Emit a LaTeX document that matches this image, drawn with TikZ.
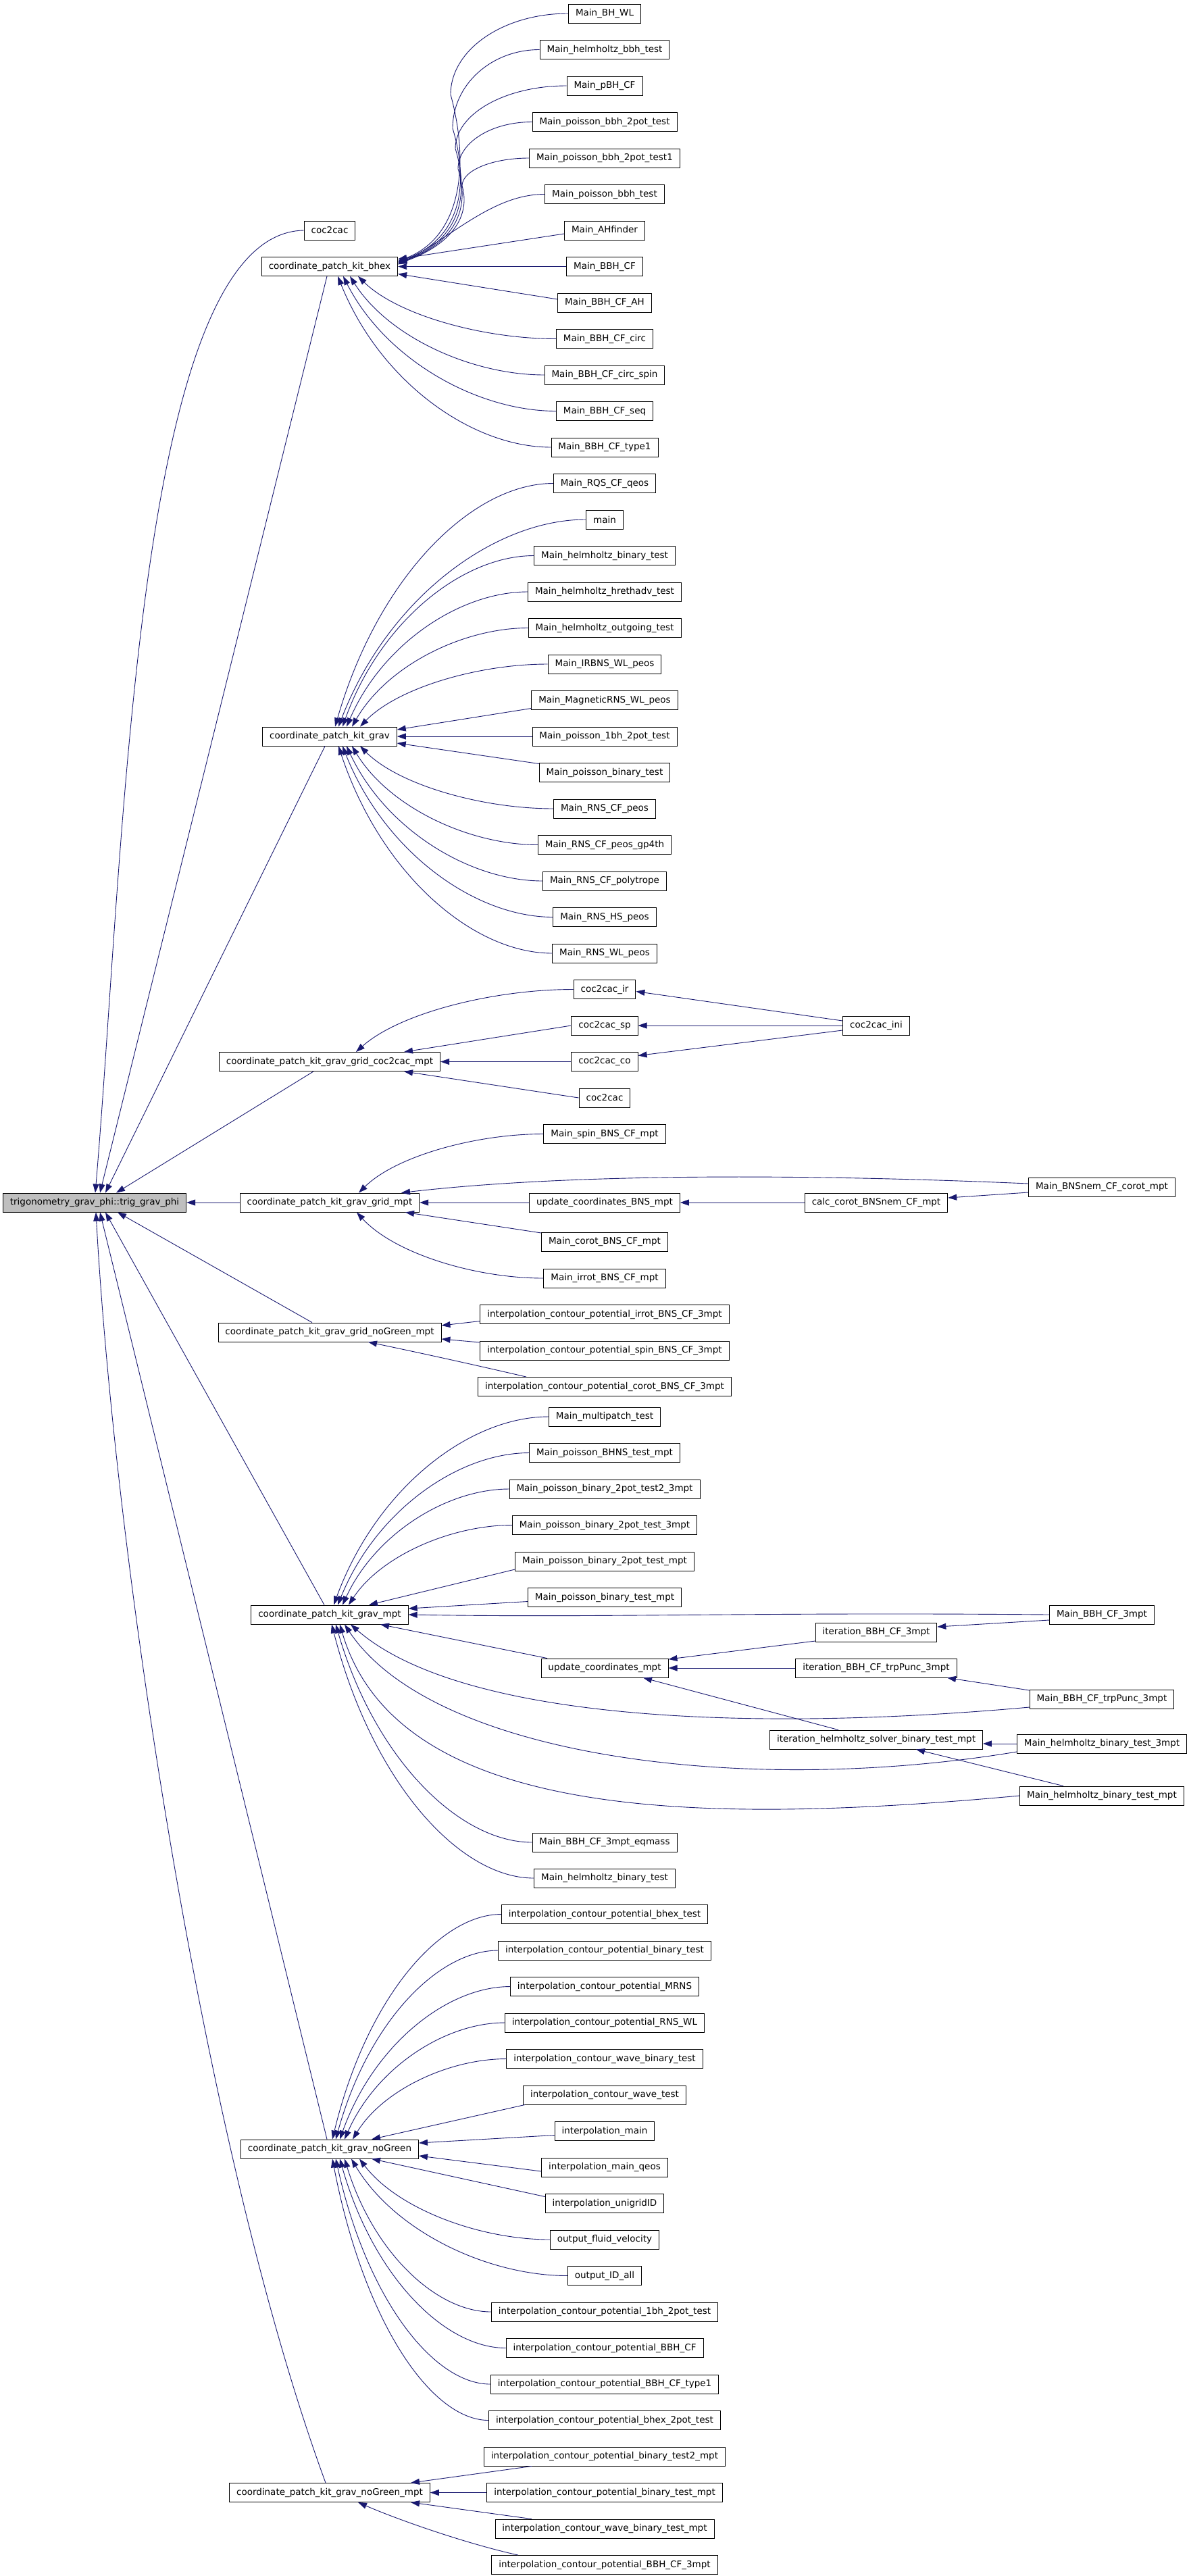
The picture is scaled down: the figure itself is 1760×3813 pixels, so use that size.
\documentclass[tikz,border=0pt]{standalone}
\usepackage{fontspec}
\newfontfamily\dvs{DejaVu Sans}
\usetikzlibrary{arrows.meta,calc}
\definecolor{navy}{RGB}{25,25,112}
\definecolor{rootfill}{RGB}{191,191,191}
\tikzset{
  box/.style={draw=black, line width=0.9pt, fill=white, minimum height=28pt, inner xsep=10.5pt, inner ysep=0pt, font=\dvs\fontsize{13.5}{16}\selectfont, anchor=center},
  lnk/.style={draw=navy, line width=0.9pt, -{Triangle[length=13pt,width=9pt]}},
}
\newcommand\fanedge[2]{\draw[lnk] let \p1=(#1), \p2=(#2) in (\p1) .. controls ({\x1-0.37*(\x1-\x2)},{\y1}) and ({\x2+0.2*(\x1-\x2)},{\y2+0.62*(\y1-\y2)}) .. (\p2);}
\begin{document}
\begin{tikzpicture}[x=1pt,y=-1pt]
\useasboundingbox (0,0) rectangle (1760,3813);
% ---------- column 1 and 2
\node[box,fill=rootfill] (r) at (140,1780) {trigonometry\_grav\_phi::trig\_grav\_phi};
\node[box] (c2a) at (488,341) {coc2cac};
\node[box] (bhex) at (488,394.5) {coordinate\_patch\_kit\_bhex};
\node[box] (grav) at (488,1090) {coordinate\_patch\_kit\_grav};
\node[box] (ccm) at (488,1571.5) {coordinate\_patch\_kit\_grav\_grid\_coc2cac\_mpt};
\node[box] (gm) at (488,1780) {coordinate\_patch\_kit\_grav\_grid\_mpt};
\node[box] (gng) at (488,1972) {coordinate\_patch\_kit\_grav\_grid\_noGreen\_mpt};
\node[box] (mpt) at (488,2390) {coordinate\_patch\_kit\_grav\_mpt};
\node[box] (ng) at (488,3181) {coordinate\_patch\_kit\_grav\_noGreen};
\node[box] (ngm) at (488,3689.5) {coordinate\_patch\_kit\_grav\_noGreen\_mpt};
% ---------- column 3
\node[box] (b0) at (895,20) {Main\_BH\_WL};
\node[box] (b1) at (895,73.5) {Main\_helmholtz\_bbh\_test};
\node[box] (b2) at (895,127) {Main\_pBH\_CF};
\node[box] (b3) at (895,180.5) {Main\_poisson\_bbh\_2pot\_test};
\node[box] (b4) at (895,234) {Main\_poisson\_bbh\_2pot\_test1};
\node[box] (b5) at (895,287.5) {Main\_poisson\_bbh\_test};
\node[box] (b6) at (895,341) {Main\_AHfinder};
\node[box] (b7) at (895,394.5) {Main\_BBH\_CF};
\node[box] (b8) at (895,448) {Main\_BBH\_CF\_AH};
\node[box] (b9) at (895,501.5) {Main\_BBH\_CF\_circ};
\node[box] (b10) at (895,555) {Main\_BBH\_CF\_circ\_spin};
\node[box] (b11) at (895,608.5) {Main\_BBH\_CF\_seq};
\node[box] (b12) at (895,662) {Main\_BBH\_CF\_type1};
\node[box] (g0) at (895,715.5) {Main\_RQS\_CF\_qeos};
\node[box] (g1) at (895,769) {main};
\node[box] (g2) at (895,822.5) {Main\_helmholtz\_binary\_test};
\node[box] (g3) at (895,876) {Main\_helmholtz\_hrethadv\_test};
\node[box] (g4) at (895,929.5) {Main\_helmholtz\_outgoing\_test};
\node[box] (g5) at (895,983) {Main\_IRBNS\_WL\_peos};
\node[box] (g6) at (895,1036.5) {Main\_MagneticRNS\_WL\_peos};
\node[box] (g7) at (895,1090) {Main\_poisson\_1bh\_2pot\_test};
\node[box] (g8) at (895,1143.5) {Main\_poisson\_binary\_test};
\node[box] (g9) at (895,1197) {Main\_RNS\_CF\_peos};
\node[box] (g10) at (895,1250.5) {Main\_RNS\_CF\_peos\_gp4th};
\node[box] (g11) at (895,1304) {Main\_RNS\_CF\_polytrope};
\node[box] (g12) at (895,1357.5) {Main\_RNS\_HS\_peos};
\node[box] (g13) at (895,1411) {Main\_RNS\_WL\_peos};
\node[box] (c0) at (895,1464.5) {coc2cac\_ir};
\node[box] (c1) at (895,1518) {coc2cac\_sp};
\node[box] (c2) at (895,1571.5) {coc2cac\_co};
\node[box] (c3) at (895,1625) {coc2cac};
\node[box] (m0) at (895,1678.5) {Main\_spin\_BNS\_CF\_mpt};
\node[box] (ub) at (895,1780) {update\_coordinates\_BNS\_mpt};
\node[box] (m1) at (895,1838) {Main\_corot\_BNS\_CF\_mpt};
\node[box] (m2) at (895,1892) {Main\_irrot\_BNS\_CF\_mpt};
\node[box] (n0) at (895,1945.5) {interpolation\_contour\_potential\_irrot\_BNS\_CF\_3mpt};
\node[box] (n1) at (895,1999) {interpolation\_contour\_potential\_spin\_BNS\_CF\_3mpt};
\node[box] (n2) at (895,2052.5) {interpolation\_contour\_potential\_corot\_BNS\_CF\_3mpt};
\node[box] (p0) at (895,2097) {Main\_multipatch\_test};
\node[box] (p1) at (895,2150.5) {Main\_poisson\_BHNS\_test\_mpt};
\node[box] (p2) at (895,2204) {Main\_poisson\_binary\_2pot\_test2\_3mpt};
\node[box] (p3) at (895,2257.5) {Main\_poisson\_binary\_2pot\_test\_3mpt};
\node[box] (p4) at (895,2311) {Main\_poisson\_binary\_2pot\_test\_mpt};
\node[box] (p5) at (895,2364.5) {Main\_poisson\_binary\_test\_mpt};
\node[box] (um) at (895,2469) {update\_coordinates\_mpt};
\node[box] (p6) at (895,2727) {Main\_BBH\_CF\_3mpt\_eqmass};
\node[box] (p7) at (895,2780) {Main\_helmholtz\_binary\_test};
\node[box] (q0) at (895,2833.5) {interpolation\_contour\_potential\_bhex\_test};
\node[box] (q1) at (895,2887) {interpolation\_contour\_potential\_binary\_test};
\node[box] (q2) at (895,2940.5) {interpolation\_contour\_potential\_MRNS};
\node[box] (q3) at (895,2994) {interpolation\_contour\_potential\_RNS\_WL};
\node[box] (q4) at (895,3047.5) {interpolation\_contour\_wave\_binary\_test};
\node[box] (q5) at (895,3101) {interpolation\_contour\_wave\_test};
\node[box] (q6) at (895,3154.5) {interpolation\_main};
\node[box] (q7) at (895,3208) {interpolation\_main\_qeos};
\node[box] (q8) at (895,3261.5) {interpolation\_unigridID};
\node[box] (q9) at (895,3315) {output\_fluid\_velocity};
\node[box] (q10) at (895,3368.5) {output\_ID\_all};
\node[box] (q11) at (895,3422) {interpolation\_contour\_potential\_1bh\_2pot\_test};
\node[box] (q12) at (895,3475.5) {interpolation\_contour\_potential\_BBH\_CF};
\node[box] (q13) at (895,3529) {interpolation\_contour\_potential\_BBH\_CF\_type1};
\node[box] (q14) at (895,3582.5) {interpolation\_contour\_potential\_bhex\_2pot\_test};
\node[box] (s0) at (895,3636) {interpolation\_contour\_potential\_binary\_test2\_mpt};
\node[box] (s1) at (895,3689.5) {interpolation\_contour\_potential\_binary\_test\_mpt};
\node[box] (s2) at (895,3743) {interpolation\_contour\_wave\_binary\_test\_mpt};
\node[box] (s3) at (895,3796.5) {interpolation\_contour\_potential\_BBH\_CF\_3mpt};
% ---------- column 4
\node[box] (ini) at (1297,1518) {coc2cac\_ini};
\node[box] (cc) at (1297,1780) {calc\_corot\_BNSnem\_CF\_mpt};
\node[box] (ia) at (1297,2416) {iteration\_BBH\_CF\_3mpt};
\node[box] (ib) at (1297,2469) {iteration\_BBH\_CF\_trpPunc\_3mpt};
\node[box] (ic) at (1297,2575) {iteration\_helmholtz\_solver\_binary\_test\_mpt};
% ---------- column 5
\node[box] (bn) at (1631,1757) {Main\_BNSnem\_CF\_corot\_mpt};
\node[box] (ba) at (1631,2390) {Main\_BBH\_CF\_3mpt};
\node[box] (bt) at (1631,2515) {Main\_BBH\_CF\_trpPunc\_3mpt};
\node[box] (h3) at (1631,2581) {Main\_helmholtz\_binary\_test\_3mpt};
\node[box] (hm) at (1631,2658) {Main\_helmholtz\_binary\_test\_mpt};

% ========== edges into root
\draw[lnk] (c2a.west) .. controls (200,345) and (185,1250) .. ([xshift=1pt]r.north);
\draw[lnk] ([xshift=-4pt]bhex.south) -- ([xshift=8pt]r.north);
\draw[lnk] ([xshift=-7pt]grav.south) -- ([xshift=16pt]r.north);
\draw[lnk] ([xshift=-24pt]ccm.south) -- ([xshift=32pt]r.north);
\draw[lnk] (gm.west) -- (r.east);
\draw[lnk] ([xshift=-26pt]gng.north) -- ([xshift=34pt]r.south);
\draw[lnk] ([xshift=-8pt]mpt.north) -- ([xshift=16pt]r.south);
\draw[lnk] ([xshift=-4pt]ng.north) -- ([xshift=8pt]r.south);
\draw[lnk] ([xshift=-6pt]ngm.north) .. controls (300,3180) and (170,2300) .. ([xshift=2pt]r.south);

% ========== bhex group
\draw[lnk] (b0.west) .. controls (744,20) and (667,74) .. (667,140) .. controls (697,250) and (680,352) .. ([yshift=8pt]bhex.east);
\draw[lnk] (b1.west) .. controls (727,73.5) and (670,125.5) .. (670,190) .. controls (697,280) and (678,355) .. ([yshift=7pt]bhex.east);
\draw[lnk] (b2.west) .. controls (747,127) and (674,169) .. (674,220) .. controls (697,295) and (676,358) .. ([yshift=6pt]bhex.east);
\draw[lnk] (b3.west) .. controls (726,180.5) and (678,212) .. (678,250) .. controls (697,310) and (672,360) .. ([yshift=5pt]bhex.east);
\draw[lnk] (b4.west) .. controls (728,234) and (684,252.5) .. (684,275) .. controls (697,320) and (668,362) .. ([yshift=4pt]bhex.east);
\draw[lnk] (b5.west) .. controls (730,287.5) and (670,350) .. ([yshift=3pt]bhex.east);
\draw[lnk] ([yshift=-5pt]b6.west) -- ([yshift=11pt]bhex.east);
\draw[lnk] (b7.west) -- (bhex.east);
\draw[lnk] ([yshift=5pt]b8.west) -- ([yshift=-11pt]bhex.east);
\fanedge{b9.west}{[xshift=42pt]bhex.south}
\fanedge{b10.west}{[xshift=30pt]bhex.south}
\fanedge{b11.west}{[xshift=20pt]bhex.south}
\fanedge{b12.west}{[xshift=12pt]bhex.south}

% ========== grav group
\fanedge{g0.west}{[xshift=8pt]grav.north}
\fanedge{g1.west}{[xshift=13pt]grav.north}
\fanedge{g2.west}{[xshift=19pt]grav.north}
\fanedge{g3.west}{[xshift=25pt]grav.north}
\fanedge{g4.west}{[xshift=33pt]grav.north}
\fanedge{g5.west}{[xshift=45pt]grav.north}
\draw[lnk] ([yshift=-12pt]g6.west) -- ([yshift=10pt]grav.east);
\draw[lnk] (g7.west) -- (grav.east);
\draw[lnk] ([yshift=13pt]g8.west) -- ([yshift=-10pt]grav.east);
\fanedge{g9.west}{[xshift=45pt]grav.south}
\fanedge{g10.west}{[xshift=33pt]grav.south}
\fanedge{g11.west}{[xshift=25pt]grav.south}
\fanedge{g12.west}{[xshift=19pt]grav.south}
\fanedge{g13.west}{[xshift=13pt]grav.south}

% ========== coc2cac group
\fanedge{c0.west}{[xshift=39pt]ccm.north}
\draw[lnk] (c1.west) -- ([xshift=110pt]ccm.north);
\draw[lnk] (c2.west) -- (ccm.east);
\draw[lnk] (c3.west) -- ([xshift=110pt]ccm.south);
\draw[lnk] ([yshift=7pt]ini.west) -- ([yshift=-3pt]c0.east);
\draw[lnk] (ini.west) -- (c1.east);
\draw[lnk] ([yshift=-7pt]ini.west) -- ([yshift=9pt]c2.east);

% ========== grid_mpt group
\fanedge{m0.west}{[xshift=43pt]gm.north}
\draw[lnk] ([yshift=5pt]bn.west) .. controls (1200,1738) and (850,1736) .. ([xshift=106pt]gm.north);
\draw[lnk] ([yshift=-8pt]bn.west) -- ([yshift=7pt]cc.east);
\draw[lnk] (cc.west) -- (ub.east);
\draw[lnk] (ub.west) -- (gm.east);
\draw[lnk] ([yshift=13pt]m1.west) -- ([xshift=112pt]gm.south);
\fanedge{m2.west}{[xshift=40pt]gm.south}

% ========== grid_noGreen_mpt group
\draw[lnk] ([yshift=-10pt]n0.west) -- ([yshift=10pt]gng.east);
\draw[lnk] ([yshift=12pt]n1.west) -- ([yshift=-10pt]gng.east);
\draw[lnk] ([xshift=-116pt]n2.north) .. controls (680,2015) and (600,1998) .. ([xshift=57pt]gng.south);

% ========== mpt group
\fanedge{p0.west}{[xshift=6pt]mpt.north}
\fanedge{p1.west}{[xshift=12pt]mpt.north}
\fanedge{p2.west}{[xshift=19pt]mpt.north}
\fanedge{p3.west}{[xshift=28pt]mpt.north}
\draw[lnk] ([yshift=-12pt]p4.west) -- ([xshift=58pt]mpt.north);
\draw[lnk] ([yshift=-6pt]p5.west) -- ([yshift=9pt]mpt.east);
\draw[lnk] (ba.west) .. controls (1100,2386) and (900,2395) .. (mpt.east);
\draw[lnk] ([yshift=-8pt]ba.west) -- ([yshift=8pt]ia.east);
\draw[lnk] ([yshift=-13pt]ia.west) -- ([yshift=13pt]um.east);
\draw[lnk] (ib.west) -- (um.east);
\draw[lnk] ([yshift=13pt]bt.west) -- ([xshift=105pt]ib.south);
\draw[lnk] ([xshift=-56pt]ic.north) -- ([xshift=57pt]um.south);
\draw[lnk] ([xshift=-85pt]um.north) -- ([xshift=75pt]mpt.south);
\draw[lnk] ([yshift=-12pt]bt.west) .. controls (1100,2565) and (680,2545) .. ([xshift=31pt]mpt.south);
\draw[lnk] (h3.west) -- (ic.east |- h3.west);
\draw[lnk] ([yshift=-12pt]h3.west) .. controls (1100,2660) and (640,2600) .. ([xshift=22pt]mpt.south);
\draw[lnk] ([xshift=-57pt]hm.north) -- ([xshift=59pt]ic.south);
\draw[lnk] (hm.west) .. controls (1050,2700) and (590,2700) .. ([xshift=15pt]mpt.south);
\fanedge{p6.west}{[xshift=9pt]mpt.south}
\fanedge{p7.west}{[xshift=3pt]mpt.south}

% ========== noGreen group
\fanedge{q0.west}{[xshift=4pt]ng.north}
\fanedge{q1.west}{[xshift=9pt]ng.north}
\fanedge{q2.west}{[xshift=15pt]ng.north}
\fanedge{q3.west}{[xshift=22pt]ng.north}
\fanedge{q4.west}{[xshift=34pt]ng.north}
\draw[lnk] ([xshift=-118pt]q5.south) -- ([xshift=62pt]ng.north);
\draw[lnk] ([yshift=-6pt]q6.west) -- ([yshift=9pt]ng.east);
\draw[lnk] ([yshift=-6pt]q7.west) -- ([yshift=-10pt]ng.east);
\draw[lnk] ([yshift=10pt]q8.west) -- ([xshift=62pt]ng.south);
\fanedge{q9.west}{[xshift=44pt]ng.south}
\fanedge{q10.west}{[xshift=32pt]ng.south}
\fanedge{q11.west}{[xshift=22pt]ng.south}
\fanedge{q12.west}{[xshift=15pt]ng.south}
\fanedge{q13.west}{[xshift=9pt]ng.south}
\fanedge{q14.west}{[xshift=4pt]ng.south}

% ========== noGreen_mpt group
\draw[lnk] ([xshift=-108pt]s0.south) -- ([xshift=120pt]ngm.north);
\draw[lnk] (s1.west) -- (ngm.east);
\draw[lnk] ([xshift=-108pt]s2.north) -- ([xshift=120pt]ngm.south);
\draw[lnk] ([xshift=-128pt]s3.north) .. controls (690,3765) and (590,3730) .. ([xshift=42pt]ngm.south);
\end{tikzpicture}
\end{document}
